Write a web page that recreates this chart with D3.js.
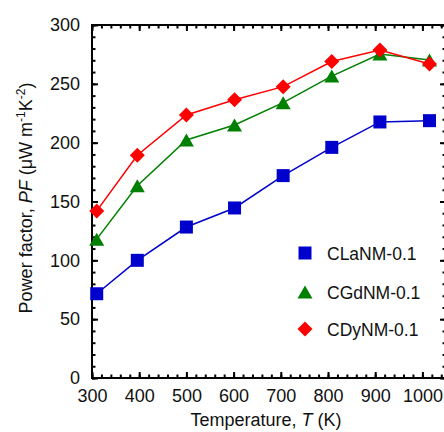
<!DOCTYPE html>
<html>
<head>
<meta charset="utf-8">
<script src="https://cdn.jsdelivr.net/npm/d3@7"></script>
<style>
    body { margin: 0; background: #fff; }
    svg text { font-family: "Liberation Sans", Arial, sans-serif; fill: #111; }
</style>
</head>
<body>
<div id="chart"></div>
<script>
// temperatures (K)
var temperatures = [310, 396, 500, 602, 705, 808, 910, 1015];
var claValues = [71.6, 100, 128.3, 144.5, 172, 196, 217.6, 218.7];
var cgdValues = [118, 163.4, 202.3, 215, 234, 256.6, 275.3, 270.2];
var cdyValues = [142, 189.3, 223.5, 236.5, 247.6, 269, 278.7, 266.9];
var seriesNames = ["CLaNM-0.1", "CGdNM-0.1", "CDyNM-0.1"];
var xTickValues = [300, 400, 500, 600, 700, 800, 900, 1000];
var yTickValues = [0, 50, 100, 150, 200, 250, 300];

var width = 444, height = 432;
var margin = { top: 25, right: -2, bottom: 54, left: 92 };

var svg = d3.select("#chart")
    .append("svg")
    .attr("width", width)
    .attr("height", height);

var x = d3.scaleLinear()
    .domain([300, 1050])
    .range([margin.left, width - margin.right]);

var y = d3.scaleLinear()
    .domain([0, 300])
    .range([height - margin.bottom, margin.top]);

// marker shapes, centred on their bounding box
function markerPath(type, cx, cy) {
    var p = d3.path();
    if (type === "square") {
        p.rect(cx - 6.5, cy - 6.5, 13, 13);
    } else if (type === "triangle") {
        p.moveTo(cx, cy - 6.5);
        p.lineTo(cx + 7.5, cy + 6.5);
        p.lineTo(cx - 7.5, cy + 6.5);
        p.closePath();
    } else {
        p.moveTo(cx, cy - 7.5);
        p.lineTo(cx + 7.5, cy);
        p.lineTo(cx, cy + 7.5);
        p.lineTo(cx - 7.5, cy);
        p.closePath();
    }
    return p.toString();
}

var series = [
    { name: seriesNames[0], values: claValues, color: "#0000cc", marker: "square" },
    { name: seriesNames[1], values: cgdValues, color: "#008000", marker: "triangle" },
    { name: seriesNames[2], values: cdyValues, color: "#ff0000", marker: "diamond" }
];

// axes: ticks point inward on all four sides
var xMinor = d3.range(300, 1050, 20);
var yMinor = d3.range(0, 301, 10);

function styleAxis(g) {
    g.select(".domain").remove();
    g.selectAll("line").attr("stroke", "#000").attr("stroke-width", 2);
    g.selectAll("text").attr("font-size", 18).attr("fill", "#111");
}

svg.append("g")
    .attr("transform", `translate(0,${y(0)})`)
    .call(d3.axisBottom(x).tickValues(xMinor).tickSize(-3.5).tickFormat(""))
    .call(styleAxis);
svg.append("g")
    .attr("transform", `translate(0,${y(0)})`)
    .call(d3.axisBottom(x).tickValues(xTickValues).tickSize(-6).tickPadding(11).tickFormat(d3.format("d")))
    .call(styleAxis);
svg.append("g")
    .attr("transform", `translate(0,${y(300)})`)
    .call(d3.axisTop(x).tickValues(xMinor).tickSize(-3.5).tickFormat(""))
    .call(styleAxis);
svg.append("g")
    .attr("transform", `translate(0,${y(300)})`)
    .call(d3.axisTop(x).tickValues(xTickValues).tickSize(-6).tickFormat(""))
    .call(styleAxis);

svg.append("g")
    .attr("transform", `translate(${x(300)},0)`)
    .call(d3.axisLeft(y).tickValues(yMinor).tickSize(-3.5).tickFormat(""))
    .call(styleAxis);
svg.append("g")
    .attr("transform", `translate(${x(300)},0)`)
    .call(d3.axisLeft(y).tickValues(yTickValues).tickSize(-6).tickPadding(12))
    .call(styleAxis);
svg.append("g")
    .attr("transform", `translate(${x(1050)},0)`)
    .call(d3.axisRight(y).tickValues(yMinor).tickSize(-3.5).tickFormat(""))
    .call(styleAxis);
svg.append("g")
    .attr("transform", `translate(${x(1050)},0)`)
    .call(d3.axisRight(y).tickValues(yTickValues).tickSize(-6).tickFormat(""))
    .call(styleAxis);

// frame
svg.append("rect")
    .attr("x", x(300))
    .attr("y", y(300))
    .attr("width", x(1050) - x(300))
    .attr("height", y(0) - y(300))
    .attr("fill", "none")
    .attr("stroke", "#000")
    .attr("stroke-width", 2);

// lines and markers
var line = d3.line()
    .x(function (d, i) { return x(temperatures[i]); })
    .y(function (d) { return y(d); });

series.forEach(function (s) {
    var g = svg.append("g").attr("class", "series");
    g.append("path")
        .attr("d", line(s.values))
        .attr("fill", "none")
        .attr("stroke", s.color)
        .attr("stroke-width", 1.5);
    g.selectAll("path.marker")
        .data(s.values)
        .enter().append("path")
        .attr("class", "marker")
        .attr("d", function (d, i) { return markerPath(s.marker, x(temperatures[i]), y(d)); })
        .attr("fill", s.color);
});

// legend
var legendRows = [253, 292, 329];
var legend = svg.selectAll("g.legend")
    .data(series)
    .enter().append("g")
    .attr("class", "legend");

legend.append("path")
    .attr("d", function (d, i) { return markerPath(d.marker, 305, legendRows[i]); })
    .attr("fill", function (d) { return d.color; });

legend.append("text")
    .attr("x", 327)
    .attr("y", function (d, i) { return legendRows[i] + 6.5; })
    .attr("font-size", 17.5)
    .text(function (d) { return d.name; });

// axis titles
var xTitle = svg.append("text")
    .attr("x", 266)
    .attr("y", 426)
    .attr("text-anchor", "middle")
    .attr("font-size", 18);
xTitle.append("tspan").text("Temperature, ");
xTitle.append("tspan").attr("font-style", "italic").text("T");
xTitle.append("tspan").text(" (K)");

var yTitle = svg.append("text")
    .attr("transform", "translate(32,198) rotate(-90)")
    .attr("text-anchor", "middle")
    .attr("font-size", 18);
yTitle.append("tspan").text("Power factor, ");
yTitle.append("tspan").attr("font-style", "italic").text("PF");
yTitle.append("tspan").text(" (\u03bcW m");
yTitle.append("tspan").attr("font-size", 12).attr("dy", -7).text("-1");
yTitle.append("tspan").attr("dy", 7).text("K");
yTitle.append("tspan").attr("font-size", 12).attr("dy", -7).text("-2");
yTitle.append("tspan").attr("dy", 7).text(")");
</script>
</body>
</html>
